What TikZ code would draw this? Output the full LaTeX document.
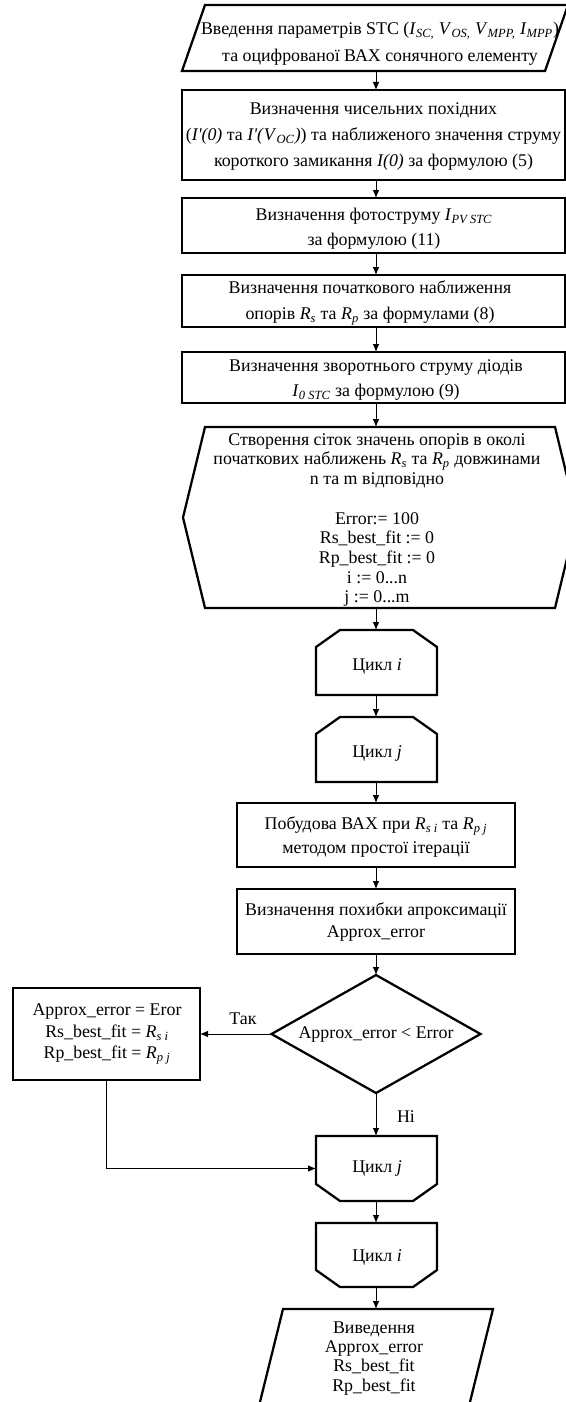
\documentclass[tikz,border=0pt]{standalone}
\usepackage{fontspec}
\setmainfont{Liberation Serif}
\usetikzlibrary{calc,arrows.meta}
\newcommand\isub[2]{\textit{#1}\textsubscript{\textit{#2}}}
\newcommand\loopstartpath[1]{\draw[shp] ($(#1.north west)+(0,17)$) -- ($(#1.north west)+(24,0)$) -- ($(#1.north east)+(-24,0)$) -- ($(#1.north east)+(0,17)$) -- (#1.south east) -- (#1.south west) -- cycle;}
\newcommand\loopendpath[1]{\draw[shp] (#1.north west) -- (#1.north east) -- ($(#1.south east)+(0,-17)$) -- ($(#1.south east)+(-24,0)$) -- ($(#1.south west)+(24,0)$) -- ($(#1.south west)+(0,-17)$) -- cycle;}
\begin{document}
\begin{tikzpicture}[x=0.75pt,y=-0.75pt,
  shp/.style={line width=1.7pt, line join=miter},
  arr/.style={line width=0.75pt,-{Latex[length=6pt,width=5pt]}},
  frame/.style={rectangle, inner sep=0pt, outer sep=0pt},
  sz/.style 2 args={minimum width=#1*0.75pt, minimum height=#2*0.75pt},
  rframe/.style={frame, draw, shp},
  txt/.style={inner sep=0pt, align=center, font=\fontsize{13.4}{15.4}\selectfont},
  sp/.style={font=\fontsize{13.4}{#1}\selectfont},
  lbl/.style={inner sep=1pt, font=\fontsize{13.4}{15.4}\selectfont}]
\useasboundingbox (0,0) rectangle (566,1402);
\clip (0,0) rectangle (566,1402);
\fill[white] (0,0) rectangle (566,1402);
\coordinate (col) at (376,0);

% frames
\node[frame,sz={386}{66}] (in1) at (375,38) {};
\node[frame,sz={383}{90}] (b2) at (373.5,135) {};
\node[frame,sz={383}{55}] (b3) at (373.5,225.5) {};
\node[frame,sz={383}{52}] (b4) at (373.5,301) {};
\node[frame,sz={383}{51}] (b5) at (373.5,377.5) {};
\node[frame,sz={394}{181}] (hex) at (380,517.5) {};
\node[frame,sz={121}{65}] (li) at (376.5,662.5) {};
\node[frame,sz={121}{65}] (lj) at (376.5,749.5) {};
\node[frame,sz={278}{64}] (b9) at (376,835) {};
\node[frame,sz={278}{65}] (b10) at (376,921.5) {};
\node[frame,sz={209}{118}] (dia) at (376,1034) {};
\node[frame,sz={187}{92}] (lb) at (106.5,1034) {};
\node[frame,sz={121}{65}] (lje) at (376.5,1168.5) {};
\node[frame,sz={121}{64}] (lie) at (376.5,1255) {};
\node[frame,sz={234.5}{99}] (out) at (375.75,1358.5) {};

% outlines
\draw[shp] ($(in1.north west)+(23,0)$) -- (in1.north east) -- ($(in1.south east)+(-23,0)$) -- (in1.south west) -- cycle;
\draw[shp] (b2.north west) rectangle (b2.south east);
\draw[shp] (b3.north west) rectangle (b3.south east);
\draw[shp] (b4.north west) rectangle (b4.south east);
\draw[shp] (b5.north west) rectangle (b5.south east);
\draw[shp] ($(hex.north west)+(22,0)$) -- ($(hex.north east)+(-22,0)$) -- (hex.east) -- ($(hex.south east)+(-22,0)$) -- ($(hex.south west)+(22,0)$) -- (hex.west) -- cycle;
\loopstartpath{li}
\loopstartpath{lj}
\draw[shp] (b9.north west) rectangle (b9.south east);
\draw[shp] (b10.north west) rectangle (b10.south east);
\draw[shp] (dia.north) -- (dia.east) -- (dia.south) -- (dia.west) -- cycle;
\draw[shp] (lb.north west) rectangle (lb.south east);
\loopendpath{lje}
\loopendpath{lie}
\draw[shp] ($(out.north west)+(24.5,0)$) -- (out.north east) -- ($(out.south east)+(-24.5,0)$) -- (out.south west) -- cycle;

% texts
\node[txt,sp=20pt] (in1t) at (380,44) {Введення параметрів STC (\isub{I}{SC,} \isub{V}{OS,} \isub{V}{MPP,} \isub{I}{MPP})\\та оцифрованої ВАХ сонячного елементу};
\node[txt,sp=19.5pt] (b2t) at (373.5,137) {Визначення чисельних похідних\\(\textit{I\textquotesingle(0)} та \textit{I\textquotesingle(}\isub{V}{OC}\textit{)}) та наближеного значення струму\\короткого замикання \textit{I(0)} за формулою (5)};
\node[txt,sp=18.8pt] (b3t) at (374,229) {Визначення фотоструму \isub{I}{PV STC}\\за формулою (11)};
\node[txt,sp=19.5pt] (b4t) at (370,303) {Визначення початкового наближення\\опорів \isub{R}{s} та \isub{R}{p} за формулами (8)};
\node[txt,sp=19pt] (b5t) at (376,380) {Визначення зворотнього струму діодів\\\isub{I}{0 STC} за формулою (9)};
\node[txt,sp=14.8pt] (hext) at (377,520) {Створення сіток значень опорів в околі\\початкових наближень \isub{R}{s} та \isub{R}{p} довжинами\\n та m відповідно\\[14.8pt]Error:= 100\\Rs\_best\_fit := 0\\Rp\_best\_fit := 0\\i := 0...n\\j := 0...m};
\node[txt] (lit) at (377,666) {Цикл \textit{i}};
\node[txt] (ljt) at (377,753) {Цикл \textit{j}};
\node[txt,sp=17.5pt] (b9t) at (376,837) {Побудова ВАХ при \isub{R}{s i} та \isub{R}{p j}\\методом простої ітерації};
\node[txt,sp=16pt] (b10t) at (376,922) {Визначення похибки апроксимації\\Approx\_error};
\node[txt] (diat) at (376,1034) {Approx\_error < Error};
\node[txt,sp=16pt] (lbt) at (107,1034) {Approx\_error = Eror\\Rs\_best\_fit = \isub{R}{s i}\\Rp\_best\_fit = \isub{R}{p j}};
\node[txt] (ljet) at (377,1168) {Цикл \textit{j}};
\node[txt] (liet) at (377,1257) {Цикл \textit{i}};
\node[txt,sp=14.3pt] (outt) at (374,1358.5) {Виведення\\Approx\_error\\Rs\_best\_fit\\Rp\_best\_fit};

% connectors
\draw[arr] (in1.south -| col) -- (b2.north -| col);
\draw[arr] (b2.south -| col) -- (b3.north -| col);
\draw[arr] (b3.south -| col) -- (b4.north -| col);
\draw[arr] (b4.south -| col) -- (b5.north -| col);
\draw[arr] (b5.south -| col) -- (hex.north -| col);
\draw[arr] (hex.south -| col) -- (li.north -| col);
\draw[arr] (li.south -| col) -- (lj.north -| col);
\draw[arr] (lj.south -| col) -- (b9.north -| col);
\draw[arr] (b9.south -| col) -- (b10.north -| col);
\draw[arr] (b10.south -| col) -- (dia.north -| col);
\draw[arr] (dia.west) -- (lb.east);
\draw[arr] (dia.south -| col) -- (lje.north -| col);
\draw[arr] (lb.south) |- (lje.west);
\draw[arr] (lje.south -| col) -- (lie.north -| col);
\draw[arr] (lie.south -| col) -- (out.north -| col);

\node[lbl] (tak) at (243,1019) {Так};
\node[lbl] (ni) at (406,1117) {Ні};
\end{tikzpicture}
\end{document}
